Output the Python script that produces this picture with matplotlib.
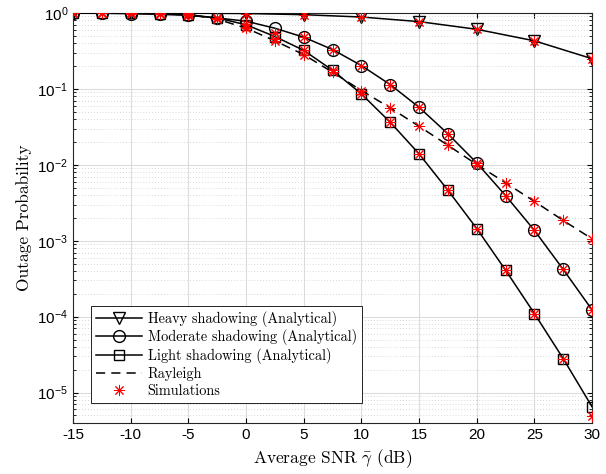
import matplotlib
matplotlib.use('Agg')
import matplotlib.pyplot as plt
from matplotlib.lines import Line2D

plt.rcParams['font.family'] = 'Liberation Sans'
plt.rcParams['mathtext.fontset'] = 'cm'
plt.rcParams['axes.unicode_minus'] = False

# SNR points (dB)
snr = [-15, -12.5, -10, -7.5, -5, -2.5, 0, 2.5, 5, 7.5, 10, 12.5, 15,
       17.5, 20, 22.5, 25, 27.5, 30]
snr_heavy = [-15, -10, -5, 0, 5, 10, 15, 20, 25, 30]

# analytical curves
heavy = [0.999, 0.998, 0.995, 0.985, 0.95, 0.885, 0.77, 0.61, 0.43, 0.25]
moderate = [0.995, 0.99, 0.98, 0.96, 0.93, 0.86, 0.78, 0.63, 0.48, 0.33,
            0.203, 0.114, 0.0573, 0.0256, 0.0106, 0.00394, 0.00137,
            0.000419, 0.000123]
light = [0.999, 0.995, 0.99, 0.975, 0.95, 0.86, 0.70, 0.49, 0.322, 0.176,
         0.0859, 0.0364, 0.01395, 0.00463, 0.00145, 0.00041, 0.000110,
         2.8e-5, 6.5e-6]
rayleigh = [1.0, 1.0, 1.0, 0.996, 0.958, 0.83, 0.632, 0.43, 0.283, 0.166,
            0.0952, 0.0563, 0.0322, 0.0181, 0.0101, 0.0058, 0.0033,
            0.00185, 0.00106]

# simulation points
sim_heavy = [0.999, 0.998, 0.995, 0.97, 0.95, 0.885, 0.77, 0.61, 0.43, 0.25]
sim_moderate = [0.995, 0.99, 0.98, 0.96, 0.93, 0.86, 0.72, 0.55, 0.48, 0.33,
                0.203, 0.114, 0.0573, 0.0256, 0.0106, 0.00394, 0.00137,
                0.000419, 0.000123]
sim_light = [0.999, 0.995, 0.99, 0.975, 0.95, 0.86, 0.66, 0.45, 0.322, 0.176,
             0.0859, 0.0364, 0.01395, 0.00463, 0.00145, 0.00041, 0.000110,
             2.8e-5, 4.9e-6]
sim_rayleigh = [1.0, 1.0, 1.0, 0.996, 0.958, 0.83, 0.632, 0.43, 0.283, 0.166,
                0.0952, 0.0563, 0.0322, 0.0181, 0.0101, 0.0058, 0.0033,
                0.00185, 0.00106]

star = (8, 2, 0)

fig = plt.figure(figsize=(6.06, 4.74), dpi=100)
ax = fig.add_axes([0.1205, 0.108, 0.8565, 0.8646])

ax.plot(snr_heavy, heavy, 'k-v', lw=1.1, ms=8.5, mfc='none', mew=1, zorder=3)
ax.plot(snr, moderate, 'k-o', lw=1.1, ms=8.5, mfc='none', mew=1, zorder=3)
ax.plot(snr, light, 'k-s', lw=1.1, ms=7, mfc='none', mew=1, zorder=3)
ax.plot(snr, rayleigh, 'k--', lw=1.1, dashes=(6, 4), zorder=3)

for s, v in [(snr_heavy, sim_heavy), (snr, sim_moderate), (snr, sim_light),
             (snr, sim_rayleigh)]:
    ax.plot(s, v, ls='none', marker=star, ms=8, color='#ff0000', mew=0.7, zorder=4)

ax.set_yscale('log')
ax.set_xlim(-15, 30)
ax.set_ylim(4e-6, 1)
ax.set_xticks(range(-15, 31, 5))
ax.tick_params(which='both', direction='in', top=True, right=True, labelsize=11)
ax.tick_params(axis='x', which='minor', bottom=False, top=False)
ax.grid(True, which='major', color='#dcdcdc', lw=0.8)
ax.grid(True, which='minor', axis='y', color='#cccccc', lw=0.6, ls=(0, (1, 2.5)))
for sp in ax.spines.values():
    sp.set_color('#262626')
    sp.set_linewidth(0.8)

ax.set_xlabel(r'Average SNR $\bar{\gamma}$ (dB)', family='cmr10', fontsize=12.5)
ax.set_ylabel('Outage Probability', family='cmr10', fontsize=12.5)

handles = [
    Line2D([], [], color='k', lw=1.1, marker='v', ms=8.5, mfc='none'),
    Line2D([], [], color='k', lw=1.1, marker='o', ms=8.5, mfc='none'),
    Line2D([], [], color='k', lw=1.1, marker='s', ms=7, mfc='none'),
    Line2D([], [], color='k', lw=1.1, ls='--', dashes=(6, 4)),
    Line2D([], [], ls='none', marker=star, ms=8, color='#ff0000', mew=0.7),
]
labels = ['Heavy shadowing (Analytical)', 'Moderate shadowing (Analytical)',
          'Light shadowing (Analytical)', 'Rayleigh', 'Simulations']
leg = ax.legend(handles, labels, loc='lower left', bbox_to_anchor=(0.035, 0.049),
                borderaxespad=0, fancybox=False, framealpha=1, edgecolor='k',
                prop={'family': 'cmr10', 'size': 10.3}, handlelength=3.2,
                handletextpad=0.4, labelspacing=0.2, borderpad=0.35)
leg.get_frame().set_linewidth(0.6)

fig.savefig('out.png', dpi=100)
